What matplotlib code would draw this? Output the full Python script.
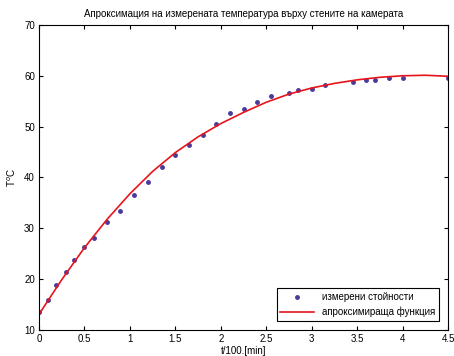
import matplotlib.pyplot as plt
import numpy as np

plt.rcParams['font.family'] = ['Liberation Sans', 'DejaVu Sans']

# measured points
t_meas = [0.0, 0.095, 0.19, 0.30, 0.39, 0.49, 0.60, 0.745, 0.895, 1.04, 1.195,
          1.35, 1.50, 1.65, 1.80, 1.95, 2.10, 2.25, 2.40, 2.55, 2.75, 2.845,
          3.0, 3.15, 3.45, 3.60, 3.70, 3.85, 4.0, 4.5]
T_meas = [13.5, 16.0, 18.8, 21.5, 23.8, 26.3, 28.0, 31.3, 33.4, 36.6, 39.1,
          42.0, 44.5, 46.3, 48.3, 50.6, 52.6, 53.5, 54.9, 56.1, 56.7, 57.2,
          57.4, 58.2, 58.8, 59.1, 59.1, 59.5, 59.6, 59.6]

# approximating function
t_fit = [0.0, 0.25, 0.5, 0.75, 1.0, 1.25, 1.5, 1.75, 2.0, 2.25, 2.5, 2.75,
         3.0, 3.25, 3.5, 3.75, 4.0, 4.25, 4.5]
T_fit = [13.1, 19.9, 26.2, 31.8, 36.8, 41.2, 44.9, 48.0, 50.6, 52.8, 54.8,
         56.4, 57.6, 58.5, 59.2, 59.7, 60.0, 60.1, 59.9]

fig = plt.figure(figsize=(4.54, 3.56), dpi=100)
ax = fig.add_axes([0.086, 0.073, 0.901, 0.857])

ax.plot(t_meas, T_meas, '.', color='#4a3a9c', markersize=5, label='измерени стойности')
ax.plot(t_fit, T_fit, '-', color='#e8141c', linewidth=1.2, label='апроксимираща функция')

ax.set_xlim(0, 4.5)
ax.set_ylim(10, 70)
ax.set_xticks(np.arange(0, 4.51, 0.5))
ax.set_xticklabels(['0', '0.5', '1', '1.5', '2', '2.5', '3', '3.5', '4', '4.5'])
ax.set_yticks(range(10, 71, 10))
ax.tick_params(direction='in', top=True, right=True, labelsize=7, length=3, pad=3)
for s in ax.spines.values():
    s.set_linewidth(0.8)

ax.set_title('Апроксимация на измерената температура върху стените на камерата',
             fontsize=7, pad=6)
ax.set_xlabel('t/100.[min]', fontsize=7, labelpad=1)
ax.set_ylabel('T$^o$C', fontsize=7, labelpad=4)

leg = ax.legend(loc='lower right', fontsize=7, fancybox=False, framealpha=1,
                edgecolor='black', borderaxespad=0.9, handlelength=3.5)
leg.get_frame().set_linewidth(0.8)

plt.savefig('out.png', dpi=100)
